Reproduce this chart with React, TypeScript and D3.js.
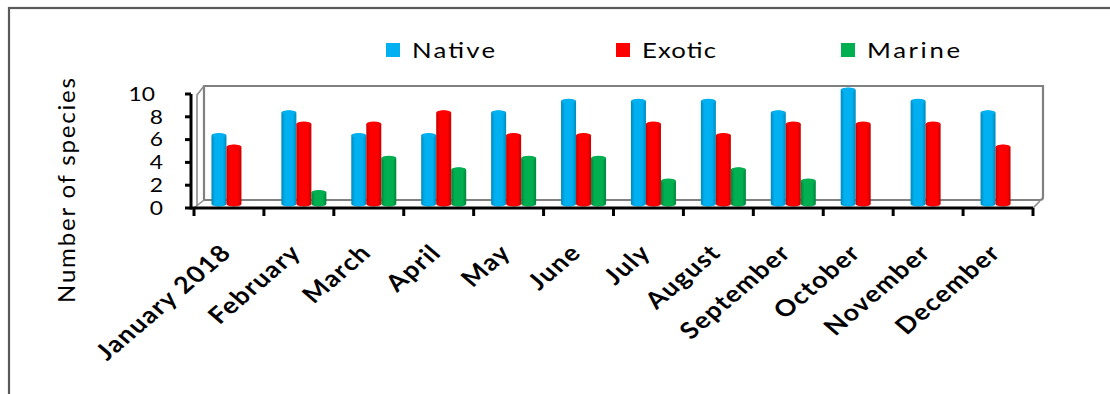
import React from "react";
import * as d3 from "d3";

// Monthly species counts
const months = [
  "January 2018", "February", "March", "April", "May", "June",
  "July", "August", "September", "October", "November", "December",
];
const nativeCounts = [6, 8, 6, 6, 8, 9, 9, 9, 8, 10, 9, 8];
const exoticCounts = [5, 7, 7, 8, 6, 6, 7, 6, 7, 7, 7, 5];
const marineCounts = [0, 1, 4, 3, 4, 4, 2, 3, 2, 0, 0, 0];
const seriesNames = ["Native", "Exotic", "Marine"];
const seriesColors = ["#00B0F0", "#FF0000", "#00B050"];
const seriesDark = ["#0089BC", "#C80000", "#00853D"];
const yTicks = [0, 2, 4, 6, 8, 10];
const yTitle = "Number of species";

const W = 1110;
const H = 394;
const FONT = "Lato, 'Open Sans', sans-serif";
const STRETCH = 1.17;

// layout
const frontLeft = 194;
const frontRight = 1033;
const depth = { dx: 10, dy: -8 };
const legendX = [386, 616, 841];
const legendTextLen = [83, 74, 93];

const x = d3.scaleBand<string>().domain(months).range([frontLeft, frontRight]).paddingInner(0).paddingOuter(0);
const y = d3.scaleLinear().domain([0, 10]).range([208, 94]);
const x1 = d3.scaleBand<string>().domain(seriesNames).range([0, x.bandwidth()]).paddingInner(0).paddingOuter(0.83);

const seriesValues = [nativeCounts, exoticCounts, marineCounts];

function cylinder(left: number, width: number, top: number, bottom: number, ry: number) {
  const right = left + width;
  const rx = width / 2;
  return `M${left},${bottom} L${left},${top} A${rx},${ry} 0 0 1 ${right},${top} L${right},${bottom} A${rx},${ry} 0 0 1 ${left},${bottom} Z`;
}

export default function App() {
  const y0 = y(0);
  const y10 = y(10);
  const bx0 = frontLeft + depth.dx;
  const bx1 = frontRight + depth.dx;
  const by0 = y0 + depth.dy;
  const by10 = y10 + depth.dy;
  const midDx = depth.dx / 2;
  const midDy = depth.dy / 2;
  const boundaries = [...months.map((m) => x(m) as number), frontRight];

  return (
    <svg
      width={W}
      height={H}
      style={{ position: "absolute", left: 0, top: 0, background: "#fff" }}
      fontFamily={FONT}
    >
      <defs>
        {seriesNames.map((s, i) => (
          <linearGradient key={s} id={`grad-${i}`} x1="0" x2="1" y1="0" y2="0">
            <stop offset="0" stopColor={seriesDark[i]} />
            <stop offset="0.25" stopColor={seriesColors[i]} />
            <stop offset="0.75" stopColor={seriesColors[i]} />
            <stop offset="1" stopColor={seriesDark[i]} />
          </linearGradient>
        ))}
      </defs>

      {/* outer chart frame */}
      <rect x={9} y={8} width={W + 20} height={H + 20} fill="#fff" stroke="#5a5a5a" strokeWidth={2.2} />

      {/* back wall */}
      <path
        d={`M${bx0},${by0} L${bx0},${by10} L${bx1},${by10} L${bx1},${by0 - 3} Q${bx1},${by0} ${bx1 - 3},${by0} Z`}
        fill="#fff"
        stroke="#808080"
        strokeWidth={2.2}
      />
      {/* side wall */}
      <path
        d={`M${frontLeft + 3},${y0 - 2} L${frontLeft + 3},${y10 + 1} L${bx0},${by10}`}
        fill="none"
        stroke="#8c8c8c"
        strokeWidth={1.6}
      />
      {/* floor edges */}
      <path
        d={`M${frontLeft},${y0} L${bx0},${by0} M${frontRight},${y0} L${bx1 - 3},${by0 + 1}`}
        fill="none"
        stroke="#8c8c8c"
        strokeWidth={1.6}
      />

      {/* cylinders */}
      {months.map((m, ci) =>
        seriesNames.map((s, si) => {
          const v = seriesValues[si][ci];
          if (!v) return null;
          const left = (x(m) as number) + (x1(s) as number) + midDx;
          const w = x1.bandwidth();
          const top = y(v) + midDy;
          const bottom = y(0) + midDy;
          return (
            <g key={`${m}-${s}`}>
              <path d={cylinder(left, w, top, bottom, 2.6)} fill={`url(#grad-${si})`} />
              <ellipse cx={left + w / 2} cy={top} rx={w / 2 - 0.5} ry={2.2} fill={seriesColors[si]} opacity={0.9} />
            </g>
          );
        })
      )}

      {/* axes */}
      <line x1={frontLeft - 3} x2={frontRight} y1={y0} y2={y0} stroke="#000" strokeWidth={3} />
      {boundaries.map((b, i) => (
        <line key={i} x1={b} x2={b} y1={y0} y2={y0 + 8} stroke="#000" strokeWidth={3} />
      ))}
      <line x1={frontLeft - 3} x2={frontLeft - 3} y1={y0 + 1.5} y2={y10} stroke="#000" strokeWidth={3} />
      {yTicks.map((t) => (
        <line key={t} x1={frontLeft - 9} x2={frontLeft - 3} y1={y(t)} y2={y(t)} stroke="#000" strokeWidth={3} />
      ))}
      {yTicks.map((t) => (
        <text
          key={t}
          transform={`translate(${t === 10 ? 155 : 163},${y(t)}) scale(1.2,1)`}
          dy="0.36em"
          textAnchor="end"
          fontSize={19}
          fill="#000"
        >
          {t}
        </text>
      ))}

      {/* y title */}
      <text
        transform={`translate(75,${(78 + 303) / 2}) rotate(-90)`}
        textAnchor="middle"
        fontSize={24}
        textLength={225}
        lengthAdjust="spacing"
        fill="#000"
      >
        {yTitle}
      </text>

      {/* month labels */}
      {months.map((m) => {
        const cx = (x(m) as number) + x.bandwidth() / 2 + 4;
        return (
          <text
            key={m}
            transform={`translate(${cx},254) scale(${STRETCH},1) rotate(-45)`}
            textAnchor="end"
            fontSize={23}
            fontWeight={700}
            letterSpacing={1.2}
            fill="#000"
          >
            {m}
          </text>
        );
      })}

      {/* legend */}
      {seriesNames.map((s, i) => (
        <g key={s}>
          <rect x={legendX[i]} y={43} width={14} height={14} fill={seriesColors[i]} />
          <text
            transform={`translate(${legendX[i] + 26},57.5) scale(${STRETCH},1)`}
            fontSize={22}
            textLength={legendTextLen[i] / STRETCH}
            lengthAdjust="spacing"
            fill="#000"
          >
            {s}
          </text>
        </g>
      ))}
    </svg>
  );
}
